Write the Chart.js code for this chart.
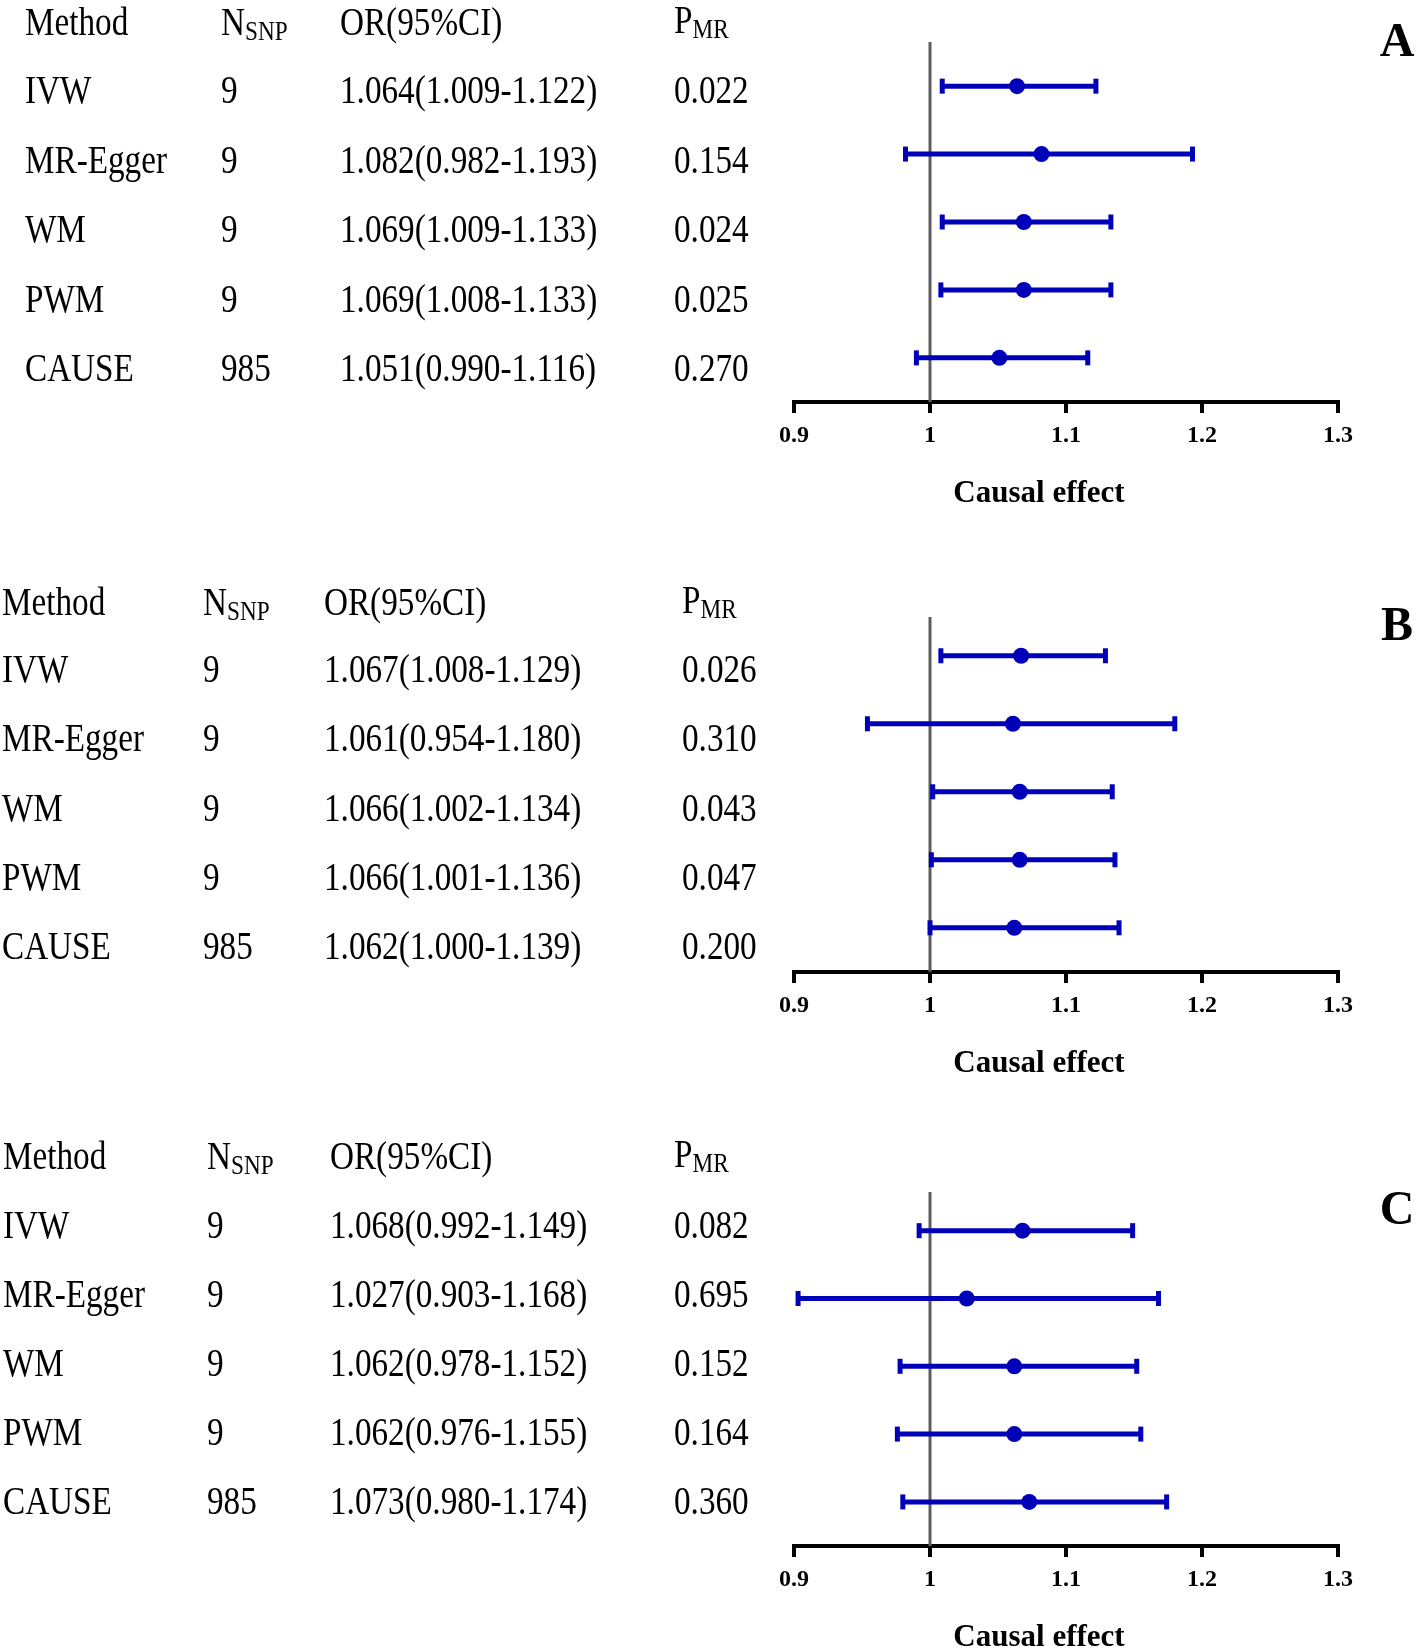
<!DOCTYPE html>
<html>
<head>
<meta charset="utf-8">
<script src="https://cdn.jsdelivr.net/npm/chart.js@4.4.1/dist/chart.umd.min.js"></script>
<style>
  html, body { margin: 0; padding: 0; background: #fff; overflow: hidden; }
  #wrap { position: relative; width: 1416px; height: 1650px; background: #fff; }
  canvas { position: absolute; left: 0; }
</style>
</head>
<body>
<div id="wrap">
  <canvas id="cA" width="1416" height="550" style="top:0px"></canvas>
  <canvas id="cB" width="1416" height="550" style="top:550px"></canvas>
  <canvas id="cC" width="1416" height="550" style="top:1100px"></canvas>
</div>
<script>
// ---------------- DATA ----------------
const methods = ["IVW", "MR-Egger", "WM", "PWM", "CAUSE"];
const nSnp = [9, 9, 9, 9, 985];

const orA = [1.064, 1.082, 1.069, 1.069, 1.051];
const loA = [1.009, 0.982, 1.009, 1.008, 0.990];
const hiA = [1.122, 1.193, 1.133, 1.133, 1.116];
const pA  = [0.022, 0.154, 0.024, 0.025, 0.270];

const orB = [1.067, 1.061, 1.066, 1.066, 1.062];
const loB = [1.008, 0.954, 1.002, 1.001, 1.000];
const hiB = [1.129, 1.180, 1.134, 1.136, 1.139];
const pB  = [0.026, 0.310, 0.043, 0.047, 0.200];

const orC = [1.068, 1.027, 1.062, 1.062, 1.073];
const loC = [0.992, 0.903, 0.978, 0.976, 0.980];
const hiC = [1.149, 1.168, 1.152, 1.155, 1.174];
const pC  = [0.082, 0.695, 0.152, 0.164, 0.360];

const xTicks = [0.9, 1, 1.1, 1.2, 1.3];
const refValue = 1;
const panelLetters = ["A", "B", "C"];
const headers = { method: "Method", n: "N", nSub: "SNP", or: "OR(95%CI)", p: "P", pSub: "MR" };
const axisTitle = "Causal effect";

// ---------------- LAYOUT / STYLE ----------------
const SERIF = "'Liberation Serif', 'Times New Roman', serif";
const BLUE = "#0000B8";
const GREY = "#5e5e5e";
const TEXT_SCALE = 0.83;

const layouts = [
  { id: "cA", padTop: 42, padBottom: 88, yMin: -0.65, yMax: 4.65,
    cols: [25, 221, 340, 674], headBase: 35, rowBase: 103, rowGap: 69.5, letterBase: 56 },
  { id: "cB", padTop: 67, padBottom: 68, yMin: -0.57, yMax: 4.65,
    cols: [2, 203, 324, 682], headBase: 65, rowBase: 132, rowGap: 69.25, letterBase: 90 },
  { id: "cC", padTop: 92, padBottom: 44, yMin: -0.57, yMax: 4.65,
    cols: [3, 207, 330, 674], headBase: 69, rowBase: 138, rowGap: 69, letterBase: 124 }
];

const panels = [
  { or: orA, lo: loA, hi: hiA, p: pA },
  { or: orB, lo: loB, hi: hiB, p: pB },
  { or: orC, lo: loC, hi: hiC, p: pC }
];

function drawScaled(ctx, text, x, y, size, weight) {
  ctx.save();
  ctx.font = (weight || "normal") + " " + size + "px " + SERIF;
  ctx.translate(x, y);
  ctx.scale(TEXT_SCALE, 1);
  ctx.fillText(text, 0, 0);
  const w = ctx.measureText(text).width * TEXT_SCALE;
  ctx.restore();
  return w;
}

function textPlugin(L, d, letter) {
  return {
    id: "forestText",
    afterDraw(chart) {
      const ctx = chart.ctx;
      const ca = chart.chartArea;
      ctx.save();
      ctx.fillStyle = "#000";
      ctx.textBaseline = "alphabetic";
      ctx.textAlign = "left";
      // header
      const hb = L.headBase;
      drawScaled(ctx, headers.method, L.cols[0], hb, 40);
      let w = drawScaled(ctx, headers.n, L.cols[1], hb, 40);
      drawScaled(ctx, headers.nSub, L.cols[1] + w, hb + 5, 28);
      drawScaled(ctx, headers.or, L.cols[2], hb, 40);
      w = drawScaled(ctx, headers.p, L.cols[3], hb - 2, 40);
      drawScaled(ctx, headers.pSub, L.cols[3] + w, hb + 3, 28);
      // rows
      methods.forEach((m, i) => {
        const y = L.rowBase + i * L.rowGap;
        drawScaled(ctx, m, L.cols[0], y, 40);
        drawScaled(ctx, String(nSnp[i]), L.cols[1], y, 40);
        const ci = d.or[i].toFixed(3) + "(" + d.lo[i].toFixed(3) + "-" + d.hi[i].toFixed(3) + ")";
        drawScaled(ctx, ci, L.cols[2], y, 40);
        drawScaled(ctx, d.p[i].toFixed(3), L.cols[3], y, 40);
      });
      // panel letter
      ctx.font = "bold 48px " + SERIF;
      ctx.textAlign = "center";
      ctx.fillText(letter, 1397, L.letterBase);
      // axis title
      ctx.font = "bold 31px " + SERIF;
      ctx.textAlign = "center";
      ctx.textBaseline = "middle";
      ctx.fillText(axisTitle, ca.left + 245, ca.bottom + 92);
      ctx.restore();
    }
  };
}

Chart.defaults.animation = false;

layouts.forEach((L, k) => {
  const d = panels[k];
  const datasets = [];
  datasets.push({
    type: "line", label: "ref",
    data: [{ x: refValue, y: L.yMin }, { x: refValue, y: L.yMax }],
    borderColor: GREY, borderWidth: 3, pointRadius: 0, showLine: true, order: 5
  });
  d.lo.forEach((lo, i) => {
    datasets.push({
      type: "line", label: methods[i] + " CI",
      data: [{ x: lo, y: i }, { x: d.hi[i], y: i }],
      borderColor: BLUE, borderWidth: 5, showLine: true,
      pointStyle: "line", pointRotation: 90, pointRadius: 7.5, pointHoverRadius: 7.5,
      pointBorderWidth: 5, pointBorderColor: BLUE, pointBackgroundColor: BLUE, order: 2
    });
  });
  datasets.push({
    type: "scatter", label: "OR",
    data: d.or.map((v, i) => ({ x: v, y: i })),
    pointStyle: "circle", pointRadius: 8, pointHoverRadius: 8,
    backgroundColor: BLUE, borderColor: BLUE, borderWidth: 0, order: 0
  });

  new Chart(document.getElementById(L.id), {
    type: "scatter",
    data: { datasets },
    options: {
      responsive: false,
      devicePixelRatio: 1,
      animation: false,
      layout: { padding: { left: 794, right: 78, top: L.padTop, bottom: L.padBottom } },
      plugins: { legend: { display: false }, tooltip: { enabled: false }, title: { display: false } },
      events: [],
      scales: {
        y: { type: "linear", min: L.yMin, max: L.yMax, reverse: true, display: false },
        x: {
          type: "linear", position: "bottom", min: xTicks[0], max: xTicks[xTicks.length - 1],
          afterBuildTicks: (s) => { s.ticks = xTicks.map(v => ({ value: v })); },
          afterFit: (s) => { s.height = 60; },
          ticks: {
            color: "#000", padding: 8, maxRotation: 0, autoSkip: false,
            font: { family: SERIF, size: 24, weight: "bold", lineHeight: 1.2 },
            callback: (v) => String(Math.round(v * 10) / 10)
          },
          grid: { display: true, drawOnChartArea: false, drawTicks: true, tickLength: 11,
                  tickWidth: 4, lineWidth: 4, tickColor: "#000", color: "#000" },
          border: { display: true, width: 4, color: "#000" },
          title: { display: false }
        }
      }
    },
    plugins: [textPlugin(L, d, panelLetters[k])]
  });
});
</script>
</body>
</html>
